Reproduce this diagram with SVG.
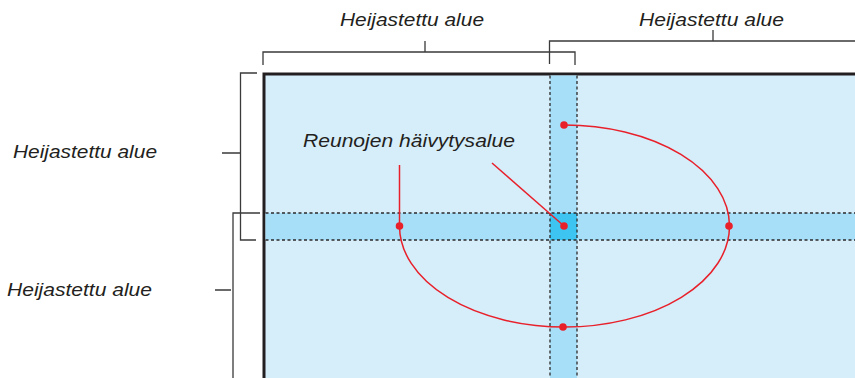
<svg xmlns="http://www.w3.org/2000/svg" width="855" height="378" viewBox="0 0 855 378">
<style>
.lbl{font-family:"Liberation Sans",Arial,sans-serif;font-style:italic;font-size:19px;fill:#231f20}
.br{fill:none;stroke:#3a3a3a;stroke-width:1.3}
.dash{fill:none;stroke:#2a2a2a;stroke-width:1.3;stroke-dasharray:3 2.5}
.red{fill:none;stroke:#e8202a;stroke-width:1.5}
.dot{fill:#e8202a}
</style>
<rect width="855" height="378" fill="#fff"/>
<g id="screen">
<rect x="264" y="74" width="600" height="320" fill="#d6edfa" stroke="#231f20" stroke-width="3"/>
<rect x="550" y="75.5" width="27" height="303" fill="#a8dff8"/>
<rect x="265.5" y="213" width="590" height="27" fill="#a8dff8"/>
<rect x="550" y="213" width="27" height="27" fill="#3ec4f0"/>
<line class="dash" x1="550" y1="75.5" x2="550" y2="378"/>
<line class="dash" x1="577" y1="75.5" x2="577" y2="378"/>
<line class="dash" x1="265.5" y1="213" x2="855" y2="213"/>
<line class="dash" x1="265.5" y1="240" x2="855" y2="240"/>
</g>
<g id="bracket-top1">
<path class="br" d="M263 65V52H575V65M425 52V41"/>
<text class="lbl" x="340" y="26" textLength="144" lengthAdjust="spacingAndGlyphs">Heijastettu alue</text>
</g>
<g id="bracket-top2">
<path class="br" d="M549.5 64V41H855M713 41V30"/>
<text class="lbl" x="639" y="26" textLength="145" lengthAdjust="spacingAndGlyphs">Heijastettu alue</text>
</g>
<g id="bracket-left1">
<path class="br" d="M257 73H240.5V240H256M240.5 153H222"/>
<text class="lbl" x="13" y="158" textLength="144" lengthAdjust="spacingAndGlyphs">Heijastettu alue</text>
</g>
<g id="bracket-left2">
<path class="br" d="M260 213H233V378M231 290H215"/>
<text class="lbl" x="7" y="296" textLength="145" lengthAdjust="spacingAndGlyphs">Heijastettu alue</text>
</g>
<g id="blend-label">
<text class="lbl" x="303" y="147" textLength="212" lengthAdjust="spacingAndGlyphs">Reunojen häivytysalue</text>
</g>
<g id="connectors">
<path class="red" d="M564 125A165 101 0 1 1 399.5 226"/>
<line class="red" x1="399.5" y1="165" x2="399.5" y2="226"/>
<line class="red" x1="492" y1="163" x2="564" y2="226"/>
<circle class="dot" cx="564" cy="125" r="3.8"/>
<circle class="dot" cx="399.5" cy="226" r="3.8"/>
<circle class="dot" cx="729" cy="226" r="3.8"/>
<circle class="dot" cx="563" cy="327" r="3.8"/>
<circle class="dot" cx="564" cy="226" r="3.8"/>
</g>
</svg>
